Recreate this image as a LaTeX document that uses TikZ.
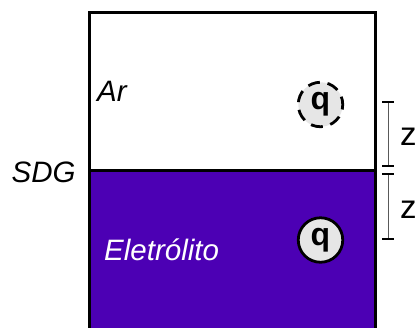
\documentclass[tikz,border=0pt]{standalone}
\usepackage{fontspec}
\setmainfont{Liberation Sans}
\definecolor{eletro}{RGB}{76,0,180}
\definecolor{qgray}{RGB}{230,230,230}
\begin{document}
\begin{tikzpicture}[x=1pt,y=-1pt,
  lbl/.style={anchor=base west,inner sep=0pt,font=\fontsize{29.5}{34}\selectfont\itshape},
  zlbl/.style={anchor=base west,inner sep=0pt,font=\fontsize{33}{36}\selectfont},
  qcirc/.style={circle,minimum size=44.5pt,inner sep=0pt,fill=qgray,line width=2.8pt,font=\fontsize{32}{34}\selectfont\bfseries},
  dimline/.style={draw=black!65,line width=1pt},
  dimtick/.style={line width=1.6pt},
  wall/.style={line width=3pt,line join=miter}]
\useasboundingbox (0,0) rectangle (419,327);
% electrolyte fill
\fill[eletro] (89,170) rectangle (375,330);
% box walls
\draw[wall] (89,330) -- (89,12.5) -- (375,12.5) -- (375,330);
\draw[wall] (89,170) -- (375,170);
% labels
\node[lbl] (ar) at (97,101) {Ar};
\node[lbl] (sdg) at (11.5,182) {SDG};
\node[lbl,text=white] (el) at (104,260) {Eletrólito};
% charges
\node[qcirc,draw,dash pattern=on 12pt off 7.8pt,dash phase=4pt] (q1) at (320.5,104.5) {q};
\node[qcirc,draw] (q2) at (320.5,240) {q};
% dimension lines
\coordinate (a1) at (388,102);
\coordinate (b1) at (388,166);
\coordinate (a2) at (388,174);
\coordinate (b2) at (388,239);
\draw[dimline] (a1) -- (b1);
\draw[dimline] (a2) -- (b2);
\foreach \c in {a1,b1,a2,b2}{
  \draw[dimtick] ([xshift=-6pt]\c) -- ([xshift=6pt]\c);
}
\node[zlbl] (z1) at (400,145) {z};
\node[zlbl] (z2) at (400,218) {z};
\end{tikzpicture}
\end{document}
